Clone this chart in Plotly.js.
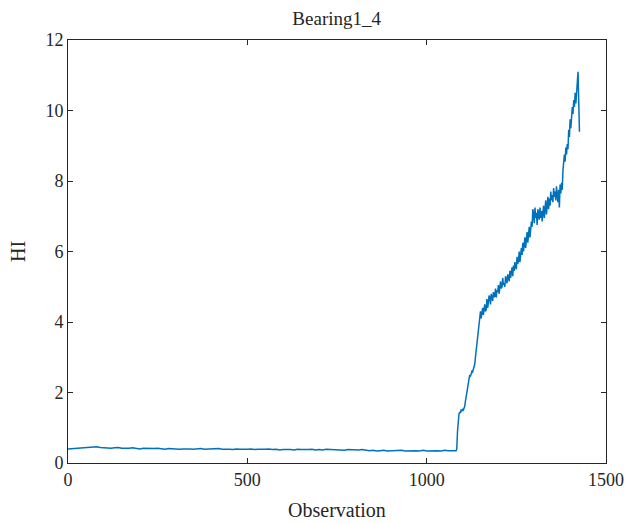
<!DOCTYPE html>
<html>
<head>
<meta charset="utf-8">
<script src="https://cdn.plot.ly/plotly-3.0.1.min.js"></script>
<style>html,body{margin:0;padding:0;background:#fff;}#chart{width:627px;height:524px;}</style>
</head>
<body>
<div id="chart"></div>
<script>
// Flat stage: observations 0..1080 every 10
const flatObs = [];
for (let i = 0; i <= 1080; i += 10) flatObs.push(i);
const flatHI = [
0.40,0.41,0.40,0.42,0.44,0.45,0.46,0.45,0.46,0.44,
0.43,0.44,0.42,0.43,0.44,0.42,0.41,0.42,0.43,0.41,
0.40,0.42,0.41,0.40,0.41,0.42,0.40,0.39,0.41,0.40,
0.41,0.39,0.40,0.41,0.40,0.39,0.40,0.41,0.39,0.40,
0.39,0.40,0.41,0.39,0.40,0.39,0.38,0.40,0.39,0.38,
0.39,0.40,0.38,0.39,0.38,0.39,0.40,0.38,0.39,0.37,
0.38,0.39,0.38,0.37,0.39,0.38,0.37,0.38,0.39,0.37,
0.38,0.37,0.39,0.38,0.37,0.38,0.37,0.36,0.38,0.37,
0.36,0.37,0.38,0.36,0.35,0.36,0.34,0.35,0.36,0.34,
0.35,0.34,0.35,0.36,0.34,0.35,0.34,0.35,0.34,0.36,
0.34,0.35,0.34,0.35,0.34,0.36,0.35,0.34,0.35
];
// Degradation stage: observations 1082..1426 every 2
const riseObs = [];
for (let i = 1082; i <= 1426; i += 2) riseObs.push(i);
const riseHI = [
0.35,0.40,0.90,1.25,1.38,1.45,1.42,1.50,1.48,1.52,
1.50,1.55,1.60,1.75,1.90,1.95,2.10,2.35,2.45,2.50,
2.45,2.55,2.60,2.58,2.65,2.70,2.80,3.00,3.20,3.35,
3.55,3.70,3.95,4.20,
4.30,4.10,4.35,4.40,4.20,4.45,4.50,4.30,4.35,4.65,
4.40,4.55,4.75,4.70,4.50,4.80,4.65,4.60,4.85,4.70,
4.75,4.95,4.70,4.90,4.85,5.05,4.80,4.95,5.15,4.95,
5.00,5.25,5.05,5.10,5.00,5.30,5.20,5.10,5.35,5.30,
5.15,5.45,5.25,5.40,5.55,5.30,5.60,5.45,5.70,5.55,
5.50,5.85,5.65,5.75,6.00,5.70,5.95,6.10,5.90,6.25,
6.00,6.20,6.40,6.10,6.35,6.55,6.25,6.50,6.70,6.40,
6.60,6.85,6.70,7.20,7.05,6.80,7.25,6.95,7.10,6.75,
7.20,7.00,6.90,7.25,6.95,7.15,6.85,7.10,7.30,6.95,
7.20,7.45,7.05,7.35,7.55,7.20,7.50,7.30,7.70,7.45,
7.60,7.40,7.80,7.55,7.70,7.45,7.85,7.60,7.40,7.75,
7.25,7.90,7.65,7.95,7.75,
8.30,8.60,8.75,8.55,8.95,8.75,9.05,8.90,9.45,9.25,
9.75,9.50,9.80,10.10,9.90,10.30,10.10,10.50,10.20,10.40,
10.80,11.10,10.30,9.40
];
const obs = flatObs.concat(riseObs);
const hi = flatHI.concat(riseHI);

const xTicks = [0, 500, 1000, 1500];
const yTicks = [0, 2, 4, 6, 8, 10, 12];

const font = {family: '"Liberation Serif", "Times New Roman", serif', color: '#262626'};
const axisCommon = {
  showline: true, mirror: 'ticks', linecolor: '#262626', linewidth: 1,
  ticks: 'inside', ticklen: 5, tickcolor: '#262626', tickwidth: 1,
  showgrid: false, zeroline: false,
  tickfont: Object.assign({size: 18}, font)
};

Plotly.newPlot('chart', [{
  x: obs, y: hi, type: 'scatter', mode: 'lines',
  line: {color: '#0072BD', width: 1.5}
}], {
  width: 627, height: 524,
  margin: {l: 68, r: 21, t: 40, b: 61},
  paper_bgcolor: '#fff', plot_bgcolor: '#fff',
  showlegend: false,
  title: {text: 'Bearing1_4', font: Object.assign({size: 19}, font), x: 0.537, xanchor: 'center', y: 0.965, yanchor: 'middle'},
  xaxis: Object.assign({}, axisCommon, {
    range: [0, 1500], tickvals: xTicks, ticktext: xTicks.map(String),
    title: {text: 'Observation', font: Object.assign({size: 20}, font), standoff: 14}
  }),
  yaxis: Object.assign({}, axisCommon, {
    range: [0, 12], tickvals: yTicks, ticktext: yTicks.map(String),
    title: {text: 'HI', font: Object.assign({size: 20}, font), standoff: 14}
  })
}, {displayModeBar: false, staticPlot: true});
</script>
</body>
</html>
